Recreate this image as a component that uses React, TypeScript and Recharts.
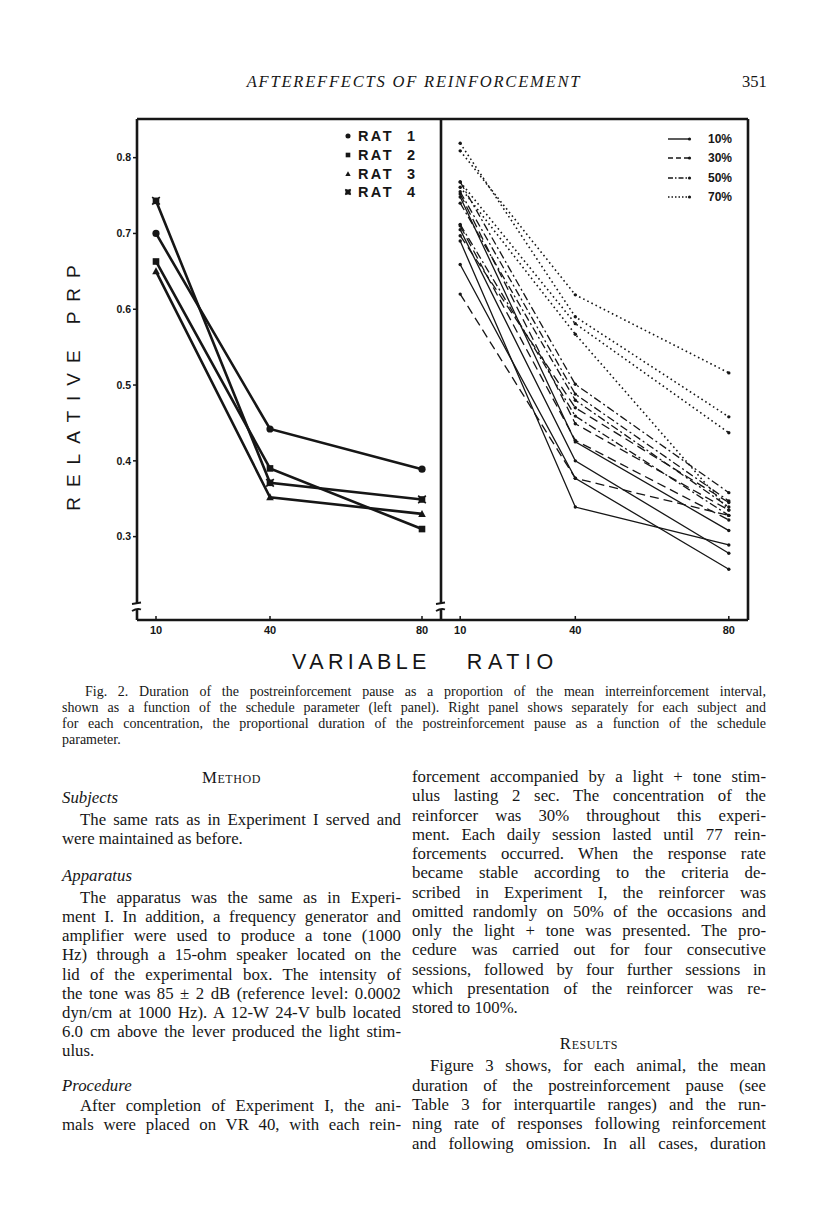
import React from "react";
import { LineChart, Line, XAxis, YAxis, ReferenceLine, Legend } from "recharts";

const INK = "#161616";
const SANS = "'Liberation Sans', Arial, sans-serif";
const SERIF = "'Liberation Serif', 'Times New Roman', serif";

// schedule parameter (VR) and axis ticks
const VR = [10, 40, 80];
const Y_TICKS = [0.3, 0.4, 0.5, 0.6, 0.7, 0.8];
const Y_DOMAIN = [0.19, 0.851];
const X_DOMAIN = [5, 85];

// left panel: relative PRP per rat at VR 10 / 40 / 80
const RATS = ["RAT 1", "RAT 2", "RAT 3", "RAT 4"];
const RAT1 = [0.7, 0.442, 0.389];
const RAT2 = [0.663, 0.39, 0.31];
const RAT3 = [0.65, 0.352, 0.33];
const RAT4 = [0.743, 0.371, 0.349];

// right panel: one row per rat, per concentration
const CONC = ["10%", "30%", "50%", "70%"];
const C10 = [[0.748, 0.425, 0.308], [0.705, 0.4, 0.278], [0.69, 0.339, 0.289], [0.659, 0.377, 0.257]];
const C30 = [[0.62, 0.377, 0.328], [0.752, 0.449, 0.335], [0.71, 0.427, 0.322], [0.697, 0.47, 0.345]];
const C50 = [[0.768, 0.501, 0.358], [0.755, 0.488, 0.347], [0.74, 0.48, 0.339], [0.712, 0.459, 0.328]];
const C70 = [[0.809, 0.619, 0.516], [0.819, 0.59, 0.458], [0.768, 0.581, 0.437], [0.761, 0.567, 0.335]];

const CONC_ROWS = [C10, C30, C50, C70];
const DASH = [undefined, "9 5", "8 3 2 3", "1.6 3"];

const leftData = VR.map((vr, i) => ({ vr, r1: RAT1[i], r2: RAT2[i], r3: RAT3[i], r4: RAT4[i] }));
const rightData = VR.map((vr, i) => {
  const row: any = { vr };
  CONC_ROWS.forEach((rows, c) => rows.forEach((r, k) => (row[`c${c}_${k}`] = r[i])));
  return row;
});

function Marker({ kind, cx, cy, s = 1 }: { kind: number; cx: number; cy: number; s?: number }) {
  if (kind === 0) return <circle cx={cx} cy={cy} r={3.6 * s} fill={INK} />;
  if (kind === 1) return <rect x={cx - 3.3 * s} y={cy - 3.3 * s} width={6.6 * s} height={6.6 * s} fill={INK} />;
  if (kind === 2)
    return <polygon points={`${cx},${cy - 4 * s} ${cx + 3.8 * s},${cy + 3 * s} ${cx - 3.8 * s},${cy + 3 * s}`} fill={INK} />;
  return (
    <g stroke={INK} strokeWidth={1.6}>
      <rect x={cx - 2.5 * s} y={cy - 2.5 * s} width={5 * s} height={5 * s} fill={INK} />
      <line x1={cx - 3.8 * s} y1={cy - 3.8 * s} x2={cx + 3.8 * s} y2={cy + 3.8 * s} />
      <line x1={cx - 3.8 * s} y1={cy + 3.8 * s} x2={cx + 3.8 * s} y2={cy - 3.8 * s} />
    </g>
  );
}

const tickFont = { fontFamily: SANS, fontWeight: 700, fontSize: 11, fill: INK };

function RatLegend() {
  return (
    <div style={{ fontFamily: SANS, fontWeight: 700, fontSize: 14.5, color: INK }}>
      {RATS.map((name, i) => (
        <div key={name} style={{ height: 18.7, display: "flex", alignItems: "center" }}>
          <svg width={10} height={10} style={{ display: "block" }}>
            <Marker kind={i} cx={5} cy={5} s={0.7} />
          </svg>
          <span style={{ marginLeft: 5, letterSpacing: 2.4, width: 49 }}>{name.split(" ")[0]}</span>
          <span>{name.split(" ")[1]}</span>
        </div>
      ))}
    </div>
  );
}

function ConcLegend() {
  return (
    <div style={{ fontFamily: SANS, fontWeight: 700, fontSize: 12, color: INK }}>
      {CONC.map((c, i) => (
        <div key={c} style={{ height: 19.3, display: "flex", alignItems: "center" }}>
          <svg width={24} height={8} style={{ display: "block" }}>
            <line x1={0} y1={4} x2={21} y2={4} stroke={INK} strokeWidth={1.4} strokeDasharray={i === 0 ? undefined : i === 1 ? "5 3" : i === 2 ? "5 2 1.5 2" : "1.5 2"} />
            <circle cx={21.5} cy={4} r={1.6} fill={INK} />
          </svg>
          <span style={{ flex: 1, textAlign: "right" }}>{c}</span>
        </div>
      ))}
    </div>
  );
}

function LeftPanel() {
  return (
    <LineChart width={400} height={560} data={leftData} margin={{ top: 19, right: 19, bottom: 10, left: 17 }}>
      <XAxis
        type="number"
        dataKey="vr"
        domain={X_DOMAIN}
        ticks={VR}
        allowDataOverflow
        height={30}
        tickSize={-4}
        tickMargin={10}
        tick={tickFont}
        axisLine={{ stroke: INK, strokeWidth: 2.6 }}
        tickLine={{ stroke: INK, strokeWidth: 1.5 }}
      />
      <YAxis
        type="number"
        domain={Y_DOMAIN}
        ticks={Y_TICKS}
        allowDataOverflow
        width={60}
        tickSize={4}
        tickMargin={2}
        tick={{ ...tickFont, fontSize: 10.5 }}
        tickFormatter={(v: number) => v.toFixed(1)}
        axisLine={{ stroke: INK, strokeWidth: 2.6 }}
        tickLine={{ stroke: INK, strokeWidth: 1.5 }}
      />
      <ReferenceLine y={Y_DOMAIN[1]} stroke={INK} strokeWidth={2.6} />
      {["r1", "r2", "r3", "r4"].map((k, i) => (
        <Line
          key={k}
          dataKey={k}
          name={RATS[i]}
          stroke={INK}
          strokeWidth={2.6}
          isAnimationActive={false}
          activeDot={false}
          dot={(p: any) => <Marker key={`${k}-${p.index}`} kind={i} cx={p.cx} cy={p.cy} />}
        />
      ))}
      <Legend
        layout="vertical"
        align="center"
        verticalAlign="middle"
        content={() => <RatLegend />}
        wrapperStyle={{ left: 283, top: 27, width: 150, height: 76 }}
      />
    </LineChart>
  );
}

function RightPanel() {
  return (
    <LineChart width={347} height={560} data={rightData} margin={{ top: 19, right: 20, bottom: 10, left: 20 }}>
      <XAxis
        type="number"
        dataKey="vr"
        domain={X_DOMAIN}
        ticks={VR}
        allowDataOverflow
        height={30}
        tickSize={-4}
        tickMargin={10}
        tick={tickFont}
        axisLine={{ stroke: INK, strokeWidth: 2.6 }}
        tickLine={{ stroke: INK, strokeWidth: 1.5 }}
      />
      <YAxis
        type="number"
        domain={Y_DOMAIN}
        ticks={Y_TICKS}
        allowDataOverflow
        mirror
        tickSize={4}
        tick={false}
        axisLine={{ stroke: INK, strokeWidth: 2.6 }}
        tickLine={{ stroke: INK, strokeWidth: 1.5 }}
      />
      <ReferenceLine y={Y_DOMAIN[1]} stroke={INK} strokeWidth={2.6} />
      <ReferenceLine x={X_DOMAIN[1]} stroke={INK} strokeWidth={2.6} />
      {CONC_ROWS.map((rows, c) =>
        rows.map((_, k) => (
          <Line
            key={`c${c}_${k}`}
            dataKey={`c${c}_${k}`}
            name={`${CONC[c]} rat ${k + 1}`}
            stroke={INK}
            strokeWidth={c === 3 ? 1.6 : 1.3}
            strokeDasharray={DASH[c]}
            isAnimationActive={false}
            activeDot={false}
            dot={(p: any) => <circle key={`c${c}_${k}-${p.index}`} cx={p.cx} cy={p.cy} r={1.7} fill={INK} />}
          />
        ))
      )}
      <Legend
        layout="vertical"
        align="center"
        verticalAlign="middle"
        content={() => <ConcLegend />}
        wrapperStyle={{ left: 247, top: 29.4, width: 64, height: 78 }}
      />
    </LineChart>
  );
}

// axis breaks on both vertical axes
function Breaks() {
  return (
    <svg width={816} height={40} style={{ position: "absolute", left: 0, top: 590 }}>
      {[137, 441].map((x) => (
        <g key={x}>
          <rect x={x - 4} y={13} width={8} height={7} fill="#fff" />
          <path d={`M${x - 5},${14} L${x + 4},${12.5}`} stroke={INK} strokeWidth={1.8} fill="none" />
          <path d={`M${x - 5},${21} Q${x},${18} ${x + 4},${19.5}`} stroke={INK} strokeWidth={1.8} fill="none" />
        </g>
      ))}
    </svg>
  );
}

const CAPTION = [
  "Fig. 2. Duration of the postreinforcement pause as a proportion of the mean interreinforcement interval,",
  "shown as a function of the schedule parameter (left panel). Right panel shows separately for each subject and",
  "for each concentration, the proportional duration of the postreinforcement pause as a function of the schedule",
  "parameter.",
];

type L = { y: number; t: string; kind?: "head" | "sub" | "last" | "indent" | "indentlast" };
const LEFT_COL: L[] = [
  { y: 778, t: "Method", kind: "head" },
  { y: 798, t: "Subjects", kind: "sub" },
  { y: 820, t: "The same rats as in Experiment I served and", kind: "indent" },
  { y: 839, t: "were maintained as before.", kind: "last" },
  { y: 876, t: "Apparatus", kind: "sub" },
  { y: 898, t: "The apparatus was the same as in Experi-", kind: "indent" },
  { y: 917, t: "ment I. In addition, a frequency generator and" },
  { y: 936, t: "amplifier were used to produce a tone (1000" },
  { y: 955, t: "Hz) through a 15-ohm speaker located on the" },
  { y: 975, t: "lid of the experimental box. The intensity of" },
  { y: 994, t: "the tone was 85 ± 2 dB (reference level: 0.0002" },
  { y: 1013, t: "dyn/cm at 1000 Hz). A 12-W 24-V bulb located" },
  { y: 1032, t: "6.0 cm above the lever produced the light stim-" },
  { y: 1051, t: "ulus.", kind: "last" },
  { y: 1086, t: "Procedure", kind: "sub" },
  { y: 1106, t: "After completion of Experiment I, the ani-", kind: "indent" },
  { y: 1125, t: "mals were placed on VR 40, with each rein-" },
];
const RIGHT_COL: L[] = [
  { y: 777, t: "forcement accompanied by a light + tone stim-" },
  { y: 796, t: "ulus lasting 2 sec. The concentration of the" },
  { y: 816, t: "reinforcer was 30% throughout this experi-" },
  { y: 835, t: "ment. Each daily session lasted until 77 rein-" },
  { y: 854, t: "forcements occurred. When the response rate" },
  { y: 873, t: "became stable according to the criteria de-" },
  { y: 893, t: "scribed in Experiment I, the reinforcer was" },
  { y: 912, t: "omitted randomly on 50% of the occasions and" },
  { y: 931, t: "only the light + tone was presented. The pro-" },
  { y: 950, t: "cedure was carried out for four consecutive" },
  { y: 970, t: "sessions, followed by four further sessions in" },
  { y: 989, t: "which presentation of the reinforcer was re-" },
  { y: 1008, t: "stored to 100%.", kind: "last" },
  { y: 1044, t: "Results", kind: "head" },
  { y: 1066, t: "Figure 3 shows, for each animal, the mean", kind: "indent" },
  { y: 1086, t: "duration of the postreinforcement pause (see" },
  { y: 1105, t: "Table 3 for interquartile ranges) and the run-" },
  { y: 1124, t: "ning rate of responses following reinforcement" },
  { y: 1144, t: "and following omission. In all cases, duration" },
];

function Column({ lines, x, w }: { lines: L[]; x: number; w: number }) {
  return (
    <>
      {lines.map((l, i) => {
        const base: React.CSSProperties = {
          position: "absolute",
          left: x,
          top: l.y - 11,
          width: w,
          height: 22,
          lineHeight: "22px",
          fontFamily: SERIF,
          fontSize: 16.8,
          color: INK,
          textAlign: "justify",
          textAlignLast: "justify",
          boxSizing: "border-box",
        };
        if (l.kind === "head")
          return <div key={i} style={{ ...base, textAlign: "center", textAlignLast: "center", fontVariant: "small-caps", letterSpacing: 0.6 }}>{l.t}</div>;
        if (l.kind === "sub")
          return <div key={i} style={{ ...base, textAlign: "left", textAlignLast: "left", fontStyle: "italic" }}>{l.t}</div>;
        if (l.kind === "last")
          return <div key={i} style={{ ...base, textAlign: "left", textAlignLast: "left" }}>{l.t}</div>;
        if (l.kind === "indent") return <div key={i} style={{ ...base, paddingLeft: 18 }}>{l.t}</div>;
        return <div key={i} style={base}>{l.t}</div>;
      })}
    </>
  );
}

export default function App() {
  return (
    <div style={{ position: "absolute", left: 0, top: 0, width: 816, height: 1207, background: "#fff", overflow: "hidden" }}>
      <div style={{ position: "absolute", left: 164, top: 72, width: 500, textAlign: "center", fontFamily: SERIF, fontStyle: "italic", fontSize: 16.5, letterSpacing: 1.8, color: INK }}>
        AFTEREFFECTS OF REINFORCEMENT
      </div>
      <div style={{ position: "absolute", left: 742, top: 72, fontFamily: SERIF, fontSize: 16.5, color: INK }}>351</div>

      <div style={{ position: "absolute", left: 60, top: 100 }}>
        <LeftPanel />
      </div>
      <div style={{ position: "absolute", left: 421, top: 100 }}>
        <RightPanel />
      </div>
      <Breaks />

      <div
        style={{
          position: "absolute",
          left: 74,
          top: 383,
          transform: "translate(-50%, -50%) rotate(-90deg)",
          whiteSpace: "nowrap",
          fontFamily: SANS,
          fontSize: 19,
          letterSpacing: 10,
          color: INK,
        }}
      >
        RELATIVE<span style={{ display: "inline-block", width: 16 }} />PRP
      </div>
      <div
        style={{
          position: "absolute",
          left: 292,
          top: 650,
          whiteSpace: "nowrap",
          fontFamily: SANS,
          fontSize: 21.5,
          letterSpacing: 4.4,
          color: INK,
        }}
      >
        VARIABLE<span style={{ display: "inline-block", width: 36 }} />
        <span style={{ letterSpacing: 5.6 }}>RATIO</span>
      </div>

      {CAPTION.map((t, i) => (
        <div
          key={i}
          style={{
            position: "absolute",
            left: i === 0 ? 85 : 62,
            top: 684 + i * 16,
            width: i === 0 ? 681 : 704,
            height: 16,
            lineHeight: "16px",
            fontFamily: SERIF,
            fontSize: 14,
            color: INK,
            textAlign: "justify",
            textAlignLast: i === CAPTION.length - 1 ? "left" : "justify",
          }}
        >
          {t}
        </div>
      ))}

      <Column lines={LEFT_COL} x={62} w={339} />
      <Column lines={RIGHT_COL} x={412} w={354} />
    </div>
  );
}
